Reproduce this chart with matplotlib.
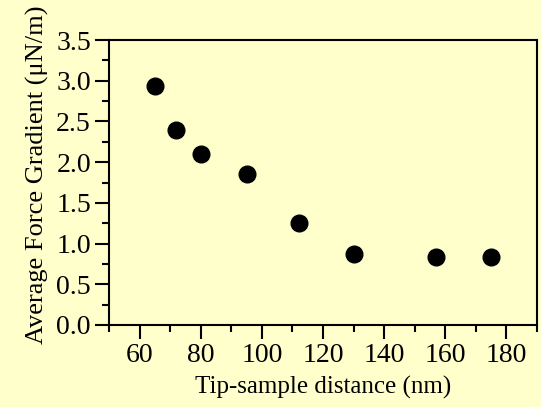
import matplotlib
matplotlib.use("Agg")
import matplotlib.pyplot as plt
from matplotlib.ticker import MultipleLocator

# data
distance = [65, 72, 80, 95, 112, 130, 157, 175]
gradient = [2.93, 2.40, 2.10, 1.85, 1.25, 0.87, 0.83, 0.83]

bg = "#FFFFCC"
plt.rcParams['font.family'] = ['Liberation Serif', 'DejaVu Serif']

fig = plt.figure(figsize=(5.41, 4.07), dpi=100, facecolor=bg)
ax = fig.add_axes([109/541, 1 - 325/407, (537 - 109)/541, (325 - 40)/407])
ax.set_facecolor(bg)

ax.plot(distance, gradient, 'o', color='black', markersize=12)

ax.set_xlim(50, 190)
ax.set_ylim(0, 3.5)
ax.xaxis.set_minor_locator(MultipleLocator(10))
ax.yaxis.set_major_locator(MultipleLocator(0.5))
ax.yaxis.set_minor_locator(MultipleLocator(0.25))
ax.set_xticks(range(60, 181, 20))
ax.yaxis.set_major_formatter(plt.FormatStrFormatter('%.1f'))

ax.tick_params(which='major', direction='out', length=10, width=1.5, labelsize=20, pad=3, colors='black')
ax.tick_params(which='minor', direction='out', length=5, width=1.5)
ax.tick_params(top=False, right=False, which='both')
for s in ax.spines.values():
    s.set_linewidth(1.5)

ax.set_xlabel('Tip-sample distance (nm)', fontsize=18, labelpad=6)
ax.set_ylabel('Average Force Gradient (\u03bcN/m)', fontsize=19)
ax.yaxis.set_label_coords(-0.14, 0.526)

fig.savefig('out.png', dpi=100, facecolor=bg)
